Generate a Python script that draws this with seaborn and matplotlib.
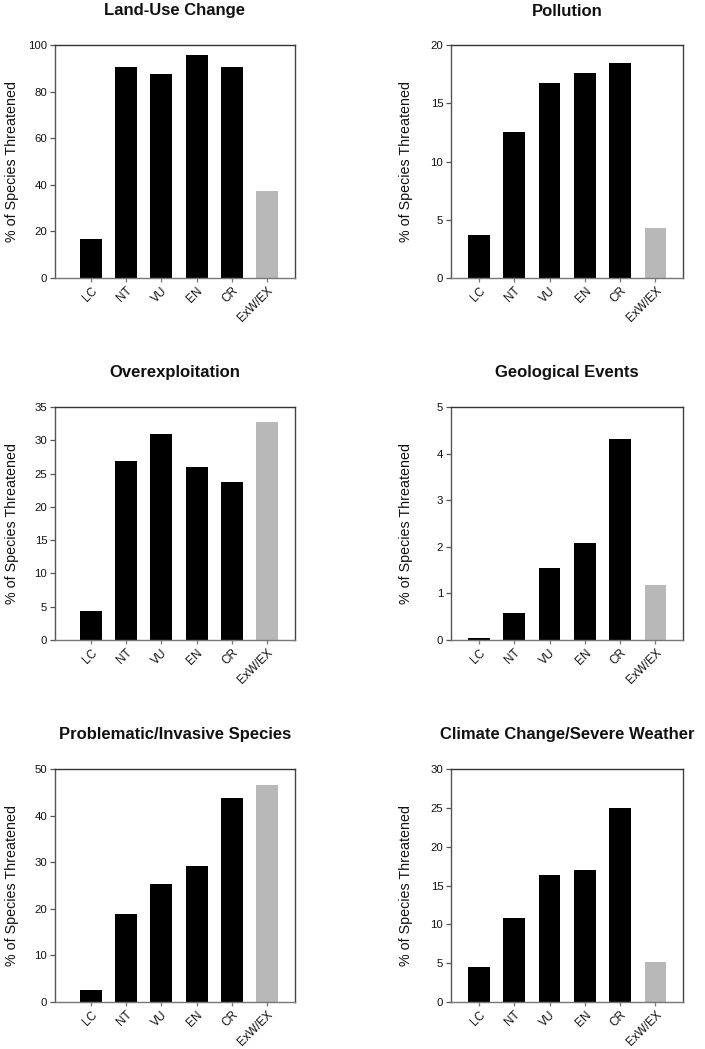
import matplotlib
matplotlib.use("Agg")
import matplotlib.pyplot as plt
import seaborn as sns
import pandas as pd

sns.set_style("ticks")
plt.rcParams['font.family'] = ['Liberation Sans', 'DejaVu Sans']

categories = ["LC", "NT", "VU", "EN", "CR", "ExW/EX"]
titles = ["Land-Use Change", "Pollution", "Overexploitation", "Geological Events",
          "Problematic/Invasive Species", "Climate Change/Severe Weather"]
land_use = [16.6, 90.4, 87.5, 95.7, 90.4, 37.2]
pollution = [3.72, 12.55, 16.76, 17.59, 18.42, 4.30]
overexploitation = [4.36, 26.83, 30.94, 26.03, 23.67, 32.75]
geological = [0.036, 0.59, 1.54, 2.08, 4.32, 1.18]
invasive = [2.58, 18.9, 25.29, 29.23, 43.84, 46.5]
climate = [4.56, 10.87, 16.37, 17.06, 24.93, 5.11]
series = [land_use, pollution, overexploitation, geological, invasive, climate]
ymax = [100, 20, 35, 5, 50, 30]
ystep = [20, 5, 5, 1, 10, 5]
bar_colors = ["#000000"] * 5 + ["#b8b8b8"]

W, H = 705, 1049
fig = plt.figure(figsize=(W / 100, H / 100), dpi=100)

rows_px = [(45, 278), (407, 640), (769, 1002)]
cols_px = [(55, 295), (451, 683)]

for i, (title, vals) in enumerate(zip(titles, series)):
    r, c = divmod(i, 2)
    top, bot = rows_px[r]
    left, right = cols_px[c]
    ax = fig.add_axes([left / W, 1 - bot / H, (right - left) / W, (bot - top) / H])
    df = pd.DataFrame({"cat": categories, "val": vals})
    sns.barplot(data=df, x="cat", y="val", hue="cat", palette=bar_colors,
                order=categories, hue_order=categories, width=0.62,
                saturation=1, legend=False, linewidth=0, ax=ax)
    ax.set_ylim(0, ymax[i])
    ax.set_yticks(list(range(0, ymax[i] + 1, ystep[i])))
    if c == 0:
        ax.set_xlim(-1.015, 5.79)
    else:
        ax.set_xlim(-0.79, 5.78)
    ax.set_xlabel("")
    ax.set_ylabel("% of Species Threatened", fontsize=10.3, color="#111111")
    ax.yaxis.set_label_coords((19 - 55) / 240 if c == 0 else (413 - 451) / 232, 0.5)
    for s in ["top", "right", "left", "bottom"]:
        ax.spines[s].set_visible(True)
        ax.spines[s].set_linewidth(1.0)
    ax.spines["top"].set_color("#333333")
    ax.spines["right"].set_color("#444444")
    ax.spines["left"].set_color("#555555")
    ax.spines["bottom"].set_color("#777777")
    ax.tick_params(axis="y", length=3.6, width=0.9, color="#555555",
                   labelsize=8.2, labelcolor="#111111", pad=2)
    ax.tick_params(axis="x", length=3, width=0.9, color="#777777",
                   labelsize=8.5, labelcolor="#111111", pad=2)
    for lab in ax.get_xticklabels():
        lab.set_rotation(45)
        lab.set_ha("right")
        lab.set_va("top")
        lab.set_rotation_mode("anchor")
    ax.text(0.5, 1 + 34 / (bot - top), title, transform=ax.transAxes,
            ha="center", va="center", fontsize=12, fontweight="bold",
            color="#111111")

fig.savefig("out.png", dpi=100, facecolor="white")
